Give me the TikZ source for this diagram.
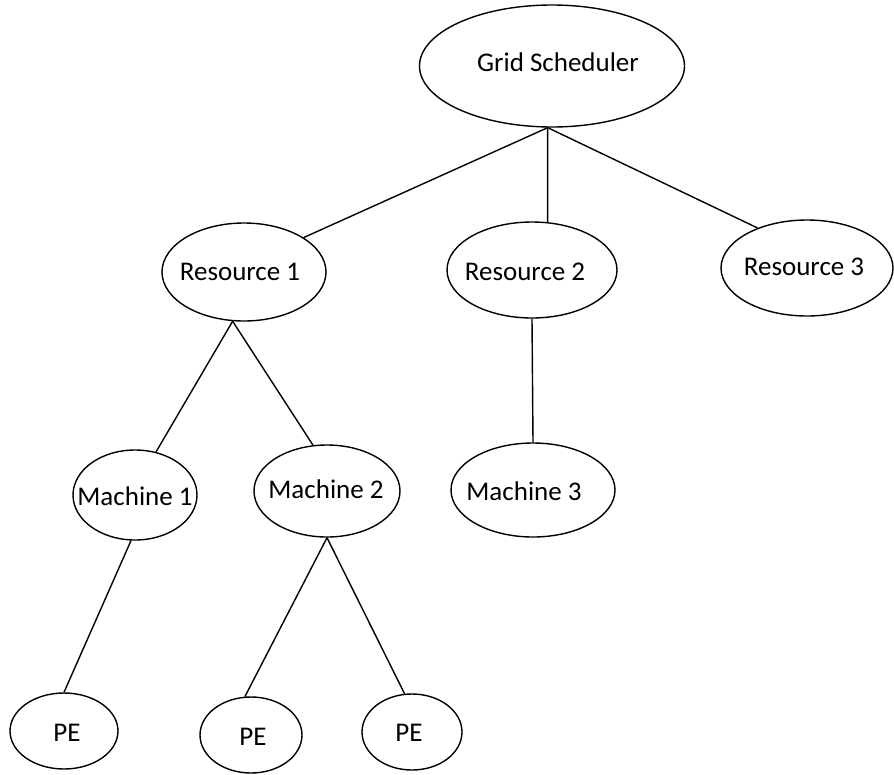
\documentclass[tikz,border=0pt]{standalone}
\usepackage{fontspec}
\setmainfont{Carlito}
\usetikzlibrary{shapes.geometric}
\begin{document}
\begin{tikzpicture}[x=1pt,y=-1pt,
  oval/.style={draw=black, line width=1.4pt, ellipse, inner sep=0pt},
  txt/.style={inner sep=0pt, text height=0.62em, text depth=0pt, yshift=-5pt, font=\fontsize{27}{32}\selectfont},
  link/.style={draw=black, line width=1.4pt}]
\useasboundingbox (0,0) rectangle (894,774);
% ellipses
\node[oval, minimum width=265, minimum height=122] (gs) at (552,66) {};
\node[oval, minimum width=164, minimum height=98] (r1) at (244,272) {};
\node[oval, minimum width=170, minimum height=96] (r2) at (532,270) {};
\node[oval, minimum width=172, minimum height=96] (r3) at (807,268) {};
\node[oval, minimum width=124, minimum height=90] (m1) at (135,495) {};
\node[oval, minimum width=146, minimum height=92] (m2) at (327,491) {};
\node[oval, minimum width=164, minimum height=94] (m3) at (533,490) {};
\node[oval, minimum width=108, minimum height=76] (p1) at (64,731) {};
\node[oval, minimum width=102, minimum height=76] (p2) at (251,735) {};
\node[oval, minimum width=100, minimum height=76] (p3) at (412,732) {};
% texts
\node[txt] (tgs) at (558,63) {Grid Scheduler};
\node[txt] (tr1) at (240,272) {Resource 1};
\node[txt] (tr2) at (525,272) {Resource 2};
\node[txt] (tr3) at (804,267) {Resource 3};
\node[txt] (tm1) at (135,497) {Machine 1};
\node[txt] (tm2) at (326,490) {Machine 2};
\node[txt] (tm3) at (524,492) {Machine 3};
\node[txt] (tp1) at (67,733) {PE};
\node[txt] (tp2) at (253,737) {PE};
\node[txt] (tp3) at (409,733) {PE};
% connectors
\draw[link] (gs.-94.7) -- (r1.30.7);
\draw[link] (gs.-94.7) -- (r2.72);
\draw[link] (gs.-94.7) -- (r3.141);
\draw[link] (r1.-103) -- (m1.64);
\draw[link] (r1.-103) -- (m2.107);
\draw[link] (r2.-90) -- (m3.90);
\draw[link] (m1.-95) -- (p1.90);
\draw[link] (m2.-90) -- (p2.99);
\draw[link] (m2.-90) -- (p3.101);
\end{tikzpicture}
\end{document}
